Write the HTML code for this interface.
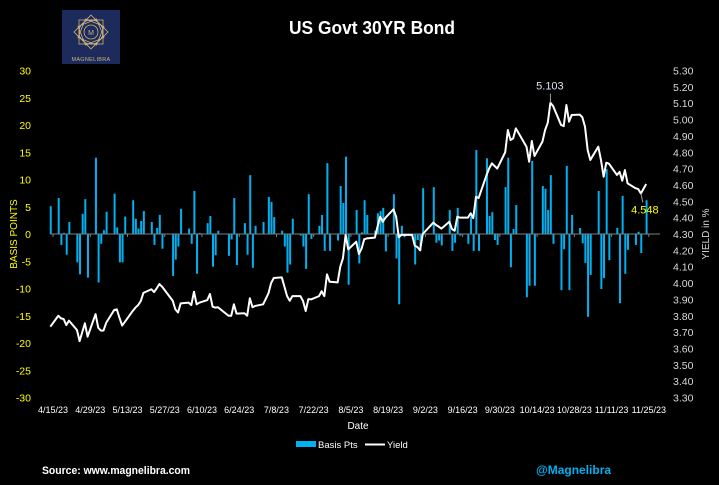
<!DOCTYPE html>
<html>
<head>
<meta charset="utf-8">
<style>
  html,body{margin:0;padding:0;background:#000;}
  body{width:719px;height:485px;overflow:hidden;position:relative;font-family:"Liberation Sans",sans-serif;}
  svg{position:absolute;left:0;top:0;}
</style>
</head>
<body>
<svg id="chart" width="719" height="485" viewBox="0 0 719 485">
  <rect x="0" y="0" width="719" height="485" fill="#000"/>
  <g>
    <rect x="62" y="10" width="58" height="54" fill="#1c2a5c"/>
    <g fill="none" stroke="#c9b27a" stroke-width="0.8">
      <circle cx="91" cy="32" r="12"/>
      <circle cx="91" cy="32" r="7"/>
      <rect x="79" y="20" width="24" height="24"/>
      <rect x="79" y="20" width="24" height="24" transform="rotate(45 91 32)"/>
      <rect x="81" y="22" width="20" height="20" transform="rotate(22.5 91 32)"/>
      <rect x="81" y="22" width="20" height="20" transform="rotate(67.5 91 32)"/>
    </g>
    <text x="91" y="35" font-size="7" fill="#c9b27a" text-anchor="middle">M</text>
    <text x="91" y="61" font-size="5.5" fill="#c9b27a" text-anchor="middle" letter-spacing="0.3">MAGNELIBRA</text>
  </g>
  <text x="372" y="34" font-size="18" font-weight="bold" fill="#fff" text-anchor="middle" textLength="166" lengthAdjust="spacingAndGlyphs">US Govt 30YR Bond</text>
  <g id="leftAxis"></g>
  <g id="rightAxis"></g>
  <text transform="translate(17,234) rotate(-90)" font-size="10" fill="#ffff00" text-anchor="middle">BASIS POINTS</text>
  <text transform="translate(709,234) rotate(-90)" font-size="10" fill="#d9d9d9" text-anchor="middle">YIELD in %</text>
  <g id="bars"></g>
  <g id="xAxis"></g>
  <g id="lineG"></g>
  <g id="annot"></g>
  <text x="358" y="429" font-size="10" fill="#fff" text-anchor="middle">Date</text>
  <g>
    <rect x="296" y="441" width="20" height="6" fill="#00b0f0"/>
    <text x="318" y="448" font-size="9.5" fill="#fff">Basis Pts</text>
    <line x1="365" y1="444.5" x2="385" y2="444.5" stroke="#fff" stroke-width="2"/>
    <text x="387" y="448" font-size="9.5" fill="#fff">Yield</text>
  </g>
  <text x="42" y="474" font-size="11" font-weight="bold" fill="#fff" textLength="148" lengthAdjust="spacingAndGlyphs">Source: www.magnelibra.com</text>
  <text x="536" y="474" font-size="12" font-weight="bold" fill="#00b0f0">@Magnelibra</text>
</svg>
<script>
// ---- data ----
const dates = ["4/14","4/17","4/18","4/19","4/20","4/21","4/24","4/25","4/26","4/27","4/28","5/1","5/2","5/3","5/4","5/5","5/8","5/9","5/10","5/11","5/12","5/15","5/16","5/17","5/18","5/19","5/22","5/23","5/24","5/25","5/26","5/30","5/31","6/1","6/2","6/5","6/6","6/7","6/8","6/9","6/12","6/13","6/14","6/15","6/16","6/20","6/21","6/22","6/23","6/26","6/27","6/28","6/29","6/30","7/3","7/5","7/6","7/7","7/10","7/11","7/12","7/13","7/14","7/17","7/18","7/19","7/20","7/21","7/24","7/25","7/26","7/27","7/28","7/31","8/1","8/2","8/3","8/4","8/7","8/8","8/9","8/10","8/11","8/14","8/15","8/16","8/17","8/18","8/21","8/22","8/23","8/24","8/25","8/28","8/29","8/30","8/31","9/1","9/5","9/6","9/7","9/8","9/11","9/12","9/13","9/14","9/15","9/18","9/19","9/20","9/21","9/22","9/25","9/26","9/27","9/28","9/29","10/2","10/3","10/4","10/5","10/6","10/10","10/11","10/12","10/13","10/16","10/17","10/18","10/19","10/20","10/23","10/24","10/25","10/26","10/27","10/30","10/31","11/1","11/2","11/3","11/6","11/7","11/8","11/9","11/10","11/13","11/14","11/15","11/16","11/17","11/20","11/21","11/22","11/24"];
const basisPts = [5.1, 6.6,-2.0,0.2,-3.8,2.2, -5.2,-7.4,3.7,6.4,-8.0, 14.0,-8.9,-1.8,0.7,4.1, 7.4,1.2,-5.2,-5.2,3.2, 6.2,2.8,1.0,2.4,4.2, 2.2,-2.0,1.1,3.5,-2.7, -7.7,-4.7,-2.3,4.6, 1.0,-1.8,7.9,-7.3,0.2, 2.0,3.3,-6.0,-3.9,0.6, -4.0,-1.0,6.6,-5.7, 2.0,-3.8,10.8,-6.2,1.5, 2.2, 6.8,5.9,3.1, 0.6,-2.3,-7.1,-5.6,2.8, -0.3,-2.3,-6.4,7.3,-0.9, 1.5,3.5,-3.1,13.0,-3.1, -1.2,8.8,5.7,14.2,-9.3, 4.4,-5.4,0.3,6.2,3.5, 0.6,3.8,4.2,4.8,-3.2, 7.3,-4.5,-12.9,1.5,-0.6, -0.3,-5.6,-1.1,-3.1,8.4, 8.6,-1.6,-1.2,-2.1, 4.4,-3.1,-1.6,4.8,-0.3, -1.8,3.2,-3.1,15.4,-3.1, 13.9,3.3,4.0,-1.1,-2.0, 8.6,14.0,-6.1,0.9,5.3, -11.6,-9.5,13.4,-9.5, 8.8,8.3,4.4,10.8,-1.8, -10.3,-2.8,12.5,-10.3,3.5, 1.1,-1.7,-5.3,-15.2,-7.5, 7.9,-10.1,-8.1,11.9,-4.8, 1.1,-12.7,7.0,-7.3,-2.9, -2.0,0.4,-3.5, 6.2];
const yields = [3.733, 3.800,3.784,3.780,3.743,3.770, 3.713,3.645,3.700,3.754,3.672, 3.810,3.727,3.709,3.710,3.757, 3.835,3.839,3.787,3.740,3.762, 3.830,3.850,3.865,3.890,3.940, 3.962,3.945,3.968,3.994,3.978, 3.892,3.839,3.820,3.876, 3.880,3.865,3.947,3.870,3.880, 3.896,3.933,3.855,3.850,3.852, 3.800,3.800,3.870,3.813, 3.815,3.800,3.907,3.852,3.860, 3.870, 3.937,4.000,4.031, 4.035,3.978,3.920,3.892,3.920, 3.920,3.890,3.829,3.902,3.900, 3.920,3.950,3.920,4.053,4.008, 4.004,4.100,4.151,4.294,4.206, 4.253,4.178,4.210,4.268,4.273, 4.278,4.345,4.406,4.375,4.400, 4.451,4.406,4.280,4.295,4.295, 4.295,4.229,4.220,4.200,4.300, 4.370,4.355,4.345,4.333, 4.375,4.330,4.320,4.406,4.400, 4.400,4.427,4.397,4.528,4.520, 4.661,4.702,4.732,4.716,4.700, 4.800,4.936,4.875,4.885,4.946, 4.834,4.742,4.869,4.777, 4.865,4.936,4.980,5.103,5.083, 4.967,4.960,5.089,4.987,5.028, 5.030,5.014,4.956,4.814,4.753, 4.834,4.753,4.650,4.736,4.730, 4.661,4.680,4.626,4.691,4.610, 4.580,4.575,4.548, 4.606];
const leftTicks = [30,25,20,15,10,5,0,-5,-10,-15,-20,-25,-30];
const rightTicks = ["5.30","5.20","5.10","5.00","4.90","4.80","4.70","4.60","4.50","4.40","4.30","4.20","4.10","4.00","3.90","3.80","3.70","3.60","3.50","3.40","3.30"];
const xTickLabels = ["4/15/23","4/29/23","5/13/23","5/27/23","6/10/23","6/24/23","7/8/23","7/22/23","8/5/23","8/19/23","9/2/23","9/16/23","9/30/23","10/14/23","10/28/23","11/11/23","11/25/23"];

// ---- scales ----
const NS = "http://www.w3.org/2000/svg";
const startDate = new Date(2023,3,15);
function dayOf(s){ const p=s.split("/"); const y = p.length>2 ? 2000+ +p[2] : 2023; const d=new Date(y,+p[0]-1,+p[1]); return Math.round((d-startDate)/86400000); }
function xScale(day){ return 53 + day*2.66; }
function yLeft(v){ return 234 - v*5.45; }
function yRight(v){ return 234 - (v-4.30)*163.5; }
function mk(tag, attrs, parent){ const e=document.createElementNS(NS,tag); for(const k in attrs) e.setAttribute(k,attrs[k]); parent.appendChild(e); return e; }

const leftAxis=document.getElementById("leftAxis");
leftTicks.forEach(v=>{
  const t=mk("text",{x:31,y:yLeft(v)+4,"font-size":10.5,fill:"#ffff00","text-anchor":"end"},leftAxis);
  
  
  t.textContent=v;
});
const rightAxis=document.getElementById("rightAxis");
rightTicks.forEach(v=>{
  const t=mk("text",{x:673,y:yRight(+v)+4,"font-size":10.5,fill:"#d9d9d9"},rightAxis);
  
  
  t.textContent=v;
});

const barsG=document.getElementById("bars");
dates.forEach((d,i)=>{
  const x=xScale(dayOf(d));
  const v=basisPts[i];
  const y0=yLeft(0), y1=yLeft(v);
  const r=mk("rect",{x:(x-0.6).toFixed(2),y:Math.min(y0,y1).toFixed(2),width:2,height:Math.max(0.5,Math.abs(y1-y0)).toFixed(2),fill:"#00b0f0"},barsG);
  
  
});

const xAxis=document.getElementById("xAxis");
const zl=mk("line",{x1:50,y1:yLeft(0),x2:660,y2:yLeft(0),stroke:"#808080","stroke-width":1},xAxis);


xTickLabels.forEach(s=>{
  const x=xScale(dayOf(s));
  const tk=mk("line",{x1:x,y1:yLeft(0),x2:x,y2:yLeft(0)+3,stroke:"#808080","stroke-width":1},xAxis);
  
  
  const t=mk("text",{x:x,y:413,"font-size":9,fill:"#fff","text-anchor":"middle"},xAxis);
  
  
  t.textContent=s;
});

const lineG=document.getElementById("lineG");
const pts=dates.map((d,i)=>xScale(dayOf(d)).toFixed(2)+","+yRight(yields[i]).toFixed(2)).join(" ");
const pl=mk("polyline",{points:pts,fill:"none",stroke:"#fff","stroke-width":2,"stroke-linejoin":"round"},lineG);



// annotations: max and last
const annot=document.getElementById("annot");
let mi=0; yields.forEach((v,i)=>{ if(v>yields[mi]) mi=i; });
const mx=xScale(dayOf(dates[mi])), my=yRight(yields[mi]);
const l1=mk("line",{x1:mx,y1:my,x2:mx,y2:my-9,stroke:"#a0a0a0","stroke-width":1},annot);


const t1=mk("text",{x:mx-0.5,y:my-13,"font-size":11,fill:"#dae6f2","text-anchor":"middle"},annot);


t1.textContent=yields[mi].toFixed(3);
const li=yields.length-2;
const lx=xScale(dayOf(dates[li])), ly=yRight(yields[li]);
const l2=mk("line",{x1:lx,y1:ly,x2:lx+2,y2:ly+9,stroke:"#a0a0a0","stroke-width":1},annot);


const t2=mk("text",{x:lx+4,y:ly+20,"font-size":11,fill:"#ffff00","text-anchor":"middle"},annot);


t2.textContent=yields[li].toFixed(3);
</script>
</body>
</html>
